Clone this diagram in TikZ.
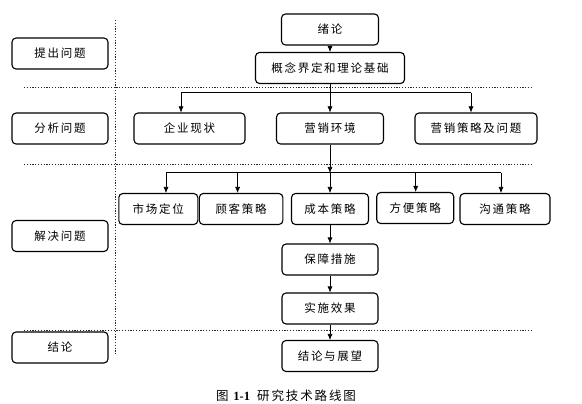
\documentclass[tikz,border=0pt]{standalone}
\usepackage{fontspec}
\setmainfont{Liberation Serif}
\newfontfamily\cjk[LetterSpace=15]{Noto Sans CJK SC}
\usetikzlibrary{arrows.meta,positioning}

\begin{document}
\begin{tikzpicture}[x=1pt,y=-1pt,>={Latex[length=6pt,width=5pt]},line width=0.6pt]
    \tikzstyle{box}=[draw,line width=1.1pt,rounded corners=4pt,minimum height=31pt,inner sep=0pt,font=\cjk\fontsize{11.5}{12}\selectfont]
    \tikzstyle{stage}=[box,minimum width=96pt]
    \tikzstyle{sep}=[black!85,line width=1pt,dash pattern=on 1.2pt off 1.6pt]
    \tikzstyle{bar}=[line width=1pt]

\useasboundingbox (0,0) rectangle (582,404);

% stages on the left
\node[stage] (tc) at (60,53.5) {提出问题};
\node[stage] (fx) at (60,128.5) {分析问题};
\node[stage] (jj) at (60,236) {解决问题};
\node[stage] (jl) at (60,347.5) {结论};

% separators
\draw[sep] (115,20) -- (115,355);
\draw[sep] (24,88) -- (531,88);
\draw[sep] (24,165) -- (531,165);
\draw[sep] (24,330) -- (531,330);

% main column
\node[box,minimum width=97pt] (xl) at (330,29.5) {绪论};
\node[box,minimum width=149pt] (gn) at (330,68) {概念界定和理论基础};

\node[box,minimum width=111pt] (qy) at (189.5,128.5) {企业现状};
\node[box,minimum width=107pt] (yh) at (330,128.5) {营销环境};
\node[box,minimum width=122pt] (cl) at (476,128.5) {营销策略及问题};

\node[box,minimum width=79pt] (sc) at (158.3,209) {市场定位};
\node[box,minimum width=83.6pt] (gk) at (241.1,209) {顾客策略};
\node[box,minimum width=77pt] (cb) at (330,209) {成本策略};
\node[box,minimum width=77pt] (fb) at (415.2,208) {方便策略};
\node[box,minimum width=90pt] (gt) at (505,209) {沟通策略};

\node[box,minimum width=96pt] (bz) at (330,259.5) {保障措施};
\node[box,minimum width=96pt] (ss) at (330,308.5) {实施效果};
\node[box,minimum width=96pt] (zw) at (330,356) {结论与展望};

\node[font=\fontsize{12.5}{13}\selectfont] (cap) at (286,396) {{\cjk 图}\hspace{3pt}\textbf{1-1}\hspace{7pt}{\cjk 研究技术路线图}};

% first branch
\coordinate (b1) at (330,93);
\coordinate (b1l) at (181,93);
\coordinate (b1r) at (471,93);
\draw[->] (xl) -- (gn);
\draw (gn) -- (b1);
\draw[bar] (b1l) -- (b1r);
\draw[->] (b1l) -- (b1l |- qy.north);
\draw[->] (b1) -- (yh);
\draw[->] (b1r) -- (b1r |- cl.north);

% second branch
\coordinate (b2) at (330,173);
\coordinate (b2l) at (166,173);
\coordinate (b2a) at (237.6,173);
\coordinate (b2b) at (415.7,173);
\coordinate (b2r) at (501,173);
\draw[->] (yh) -- (b2);
\draw[bar] (b2l) -- (b2r);
\draw[->] (b2l) -- (b2l |- sc.north);
\draw[->] (b2a) -- (b2a |- gk.north);
\draw[->] (b2) -- (cb);
\draw[->] (b2b) -- (b2b |- fb.north);
\draw[->] (b2r) -- (b2r |- gt.north);

% lower column
\draw[->] (cb) -- (bz);
\draw[->] (bz) -- (ss);
\draw[->] (ss) -- (zw);
\end{tikzpicture}
\end{document}
